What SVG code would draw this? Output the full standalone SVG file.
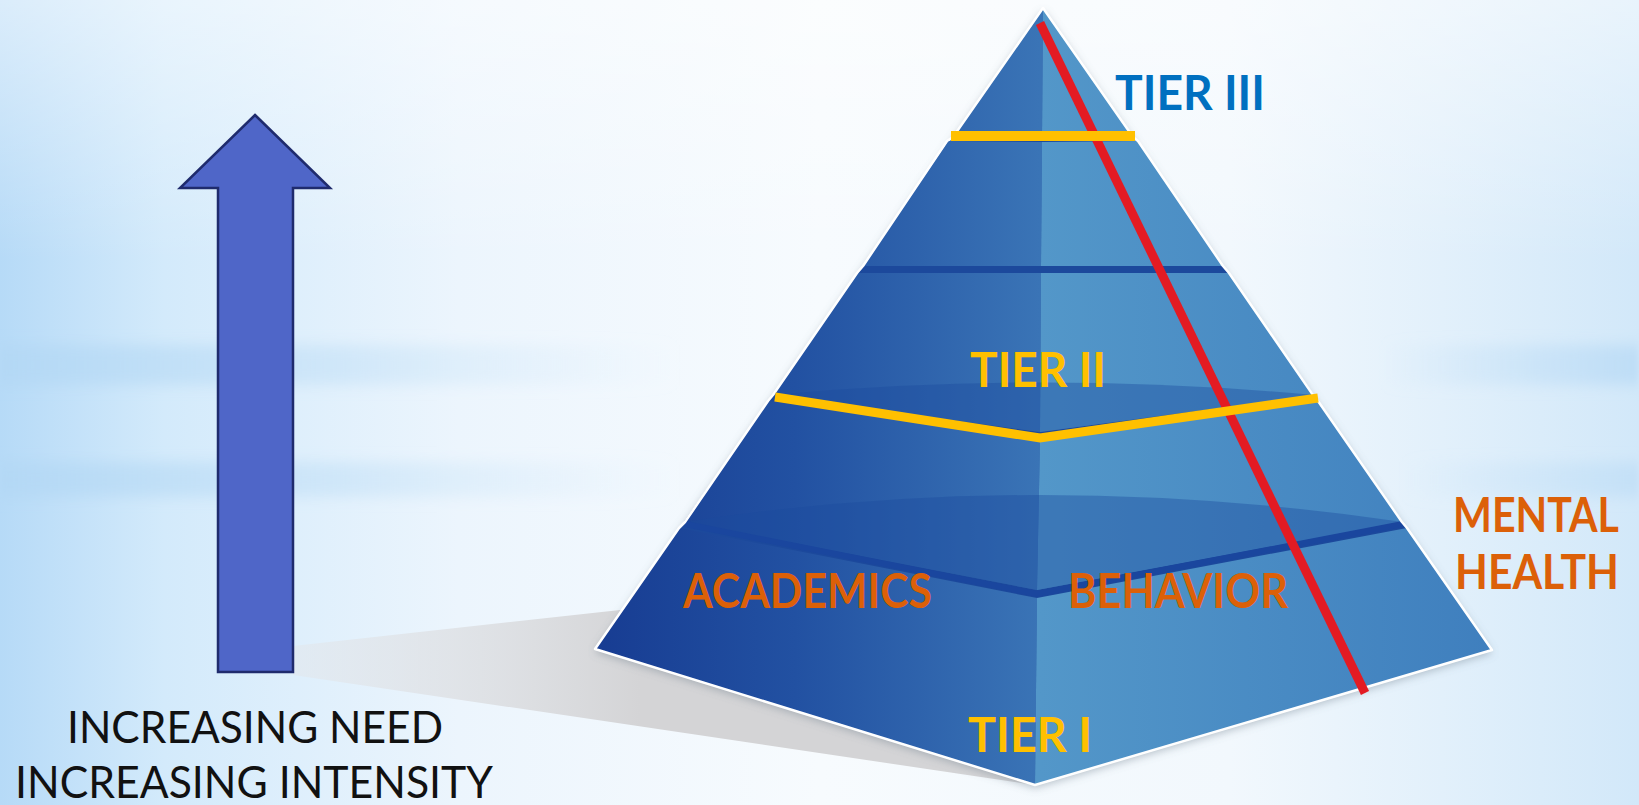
<svg xmlns="http://www.w3.org/2000/svg" width="1639" height="805" viewBox="0 0 1639 805">
<defs>
<linearGradient id="bgH" x1="0" y1="0" x2="1" y2="0">
<stop offset="0" stop-color="#b6daf7"/>
<stop offset="0.1" stop-color="#d3eafb"/>
<stop offset="0.28" stop-color="#ecf5fd"/>
<stop offset="0.5" stop-color="#f7fbfe"/>
<stop offset="0.75" stop-color="#f2f8fd"/>
<stop offset="0.88" stop-color="#e2f0fb"/>
<stop offset="1" stop-color="#d2e8f9"/>
</linearGradient>
<linearGradient id="bandL" x1="0" y1="0" x2="1" y2="0">
<stop offset="0" stop-color="#b3d8f5" stop-opacity="0.9"/>
<stop offset="0.5" stop-color="#c4e1f7" stop-opacity="0.6"/>
<stop offset="1" stop-color="#d6ebfa" stop-opacity="0"/>
</linearGradient>
<linearGradient id="bandR" x1="0" y1="0" x2="1" y2="0">
<stop offset="0" stop-color="#c4e1f7" stop-opacity="0"/>
<stop offset="1" stop-color="#bcdcf6" stop-opacity="0.9"/>
</linearGradient>
<linearGradient id="topGlow" x1="0" y1="0" x2="0" y2="1">
<stop offset="0" stop-color="#ffffff" stop-opacity="0.5"/>
<stop offset="1" stop-color="#ffffff" stop-opacity="0"/>
</linearGradient>
<linearGradient id="shadowG" gradientUnits="userSpaceOnUse" x1="293" y1="0" x2="640" y2="0">
<stop offset="0" stop-color="#e3e6ea" stop-opacity="0.5"/>
<stop offset="1" stop-color="#d4d4d6" stop-opacity="1"/>
</linearGradient>
<linearGradient id="leftFace" gradientUnits="userSpaceOnUse" x1="595" y1="0" x2="1040" y2="0">
<stop offset="0" stop-color="#173c92"/>
<stop offset="0.45" stop-color="#2251a2"/>
<stop offset="1" stop-color="#3a74b6"/>
</linearGradient>
<linearGradient id="rightFace" gradientUnits="userSpaceOnUse" x1="1040" y1="0" x2="1492" y2="0">
<stop offset="0" stop-color="#5397c9"/>
<stop offset="1" stop-color="#3f7fbe"/>
</linearGradient>
<filter id="pyrShadow" x="-10%" y="-10%" width="120%" height="120%">
<feDropShadow dx="0" dy="3" stdDeviation="4" flood-color="#6a7a8a" flood-opacity="0.45"/>
</filter>
<filter id="blurBg" x="-5%" y="-50%" width="110%" height="200%">
<feGaussianBlur stdDeviation="3 7"/>
</filter>
<style>
.lf{fill:url(#leftFace)}
.rf{fill:url(#rightFace)}
.lens{fill:#1b4a9d;fill-opacity:0.4}
.lbl{font-family:Lato,"Open Sans","DejaVu Sans",sans-serif;font-weight:bold;font-size:48px}
.orange{fill:#dc6008}
.gold{fill:#ffc000}
.blk{font-family:Lato,"Open Sans","DejaVu Sans",sans-serif;font-size:45px;fill:#111111}
</style>
</defs>

<g id="background">
<rect x="0" y="0" width="1639" height="805" fill="url(#bgH)"/>
<g filter="url(#blurBg)">
<rect x="0" y="345" width="680" height="40" fill="url(#bandL)"/>
<rect x="0" y="462" width="680" height="35" fill="url(#bandL)"/>
<rect x="1380" y="345" width="259" height="40" fill="url(#bandR)"/>
<rect x="1400" y="462" width="239" height="35" fill="url(#bandR)" opacity="0.7"/>
</g>
<rect x="0" y="0" width="1639" height="260" fill="url(#topGlow)"/>
</g>

<g id="floor-shadow">
<polygon points="293,646 620,610 1035,785 293,675" fill="url(#shadowG)"/>
</g>

<g id="arrow">
<polygon points="255,115 330,188 293,188 293,672 218,672 218,188 180,188" fill="#4f66c8" stroke="#1f2b6d" stroke-width="2.5" stroke-linejoin="miter"/>
</g>

<g id="pyramid">
<polygon points="1043,8 1492,650 1035,785 595,649" fill="#1d4a9c" filter="url(#pyrShadow)"/>
<g id="slab1">
<polygon class="lf" points="1043,8 1042,139 953,137"/>
<polygon class="rf" points="1043,8 1133,137 1042,139"/>
</g>
<g id="slab2">
<polygon class="lf" points="948,141 1042,142 1041,266 863,266"/>
<polygon class="rf" points="1042,142 1138,141 1223,266 1041,266"/>
</g>
<g id="slab3">
<polygon class="lf" points="858,273 1041,273 1040,432 773,395"/>
<polygon class="rf" points="1041,273 1229,273 1314,395 1040,432"/>
<path class="lens" d="M773,395 Q1040,370 1314,395 L1040,432 Z"/>
</g>
<g id="slab4">
<polygon class="lf" points="769,401 1040,440 1037,590 685,522"/>
<polygon class="rf" points="1040,440 1318,401 1403,522 1037,590"/>
<path class="lens" d="M685,522 Q1037,468 1403,522 L1037,590 Z"/>
</g>
<g id="slab5">
<polygon class="lf" points="680,528 1037,598 1035,785 595,649"/>
<polygon class="rf" points="1037,598 1407,528 1492,650 1035,785"/>
</g>
<polyline points="685,524 1037,594 1403,524" fill="none" stroke="#1a469e" stroke-width="6"/>
<polygon points="1043,8 953,137 947,141 863,266 857,273 773,395 768,401 685,522 679,528 595,649 1035,785 1492,650 1407,528 1402,522 1318,401 1313,395 1229,273 1223,266 1138,141 1133,137" fill="none" stroke="#ffffff" stroke-width="2.5" stroke-linejoin="round"/>
</g>

<g id="lines">
<line x1="1040" y1="23" x2="1365" y2="693" stroke="#e31b23" stroke-width="9"/>
<line x1="951" y1="136" x2="1135" y2="136" stroke="#ffc000" stroke-width="10"/>
<polyline points="775,397 1040,438 1318,398" fill="none" stroke="#ffc000" stroke-width="9" stroke-linejoin="miter"/>
</g>

<g id="labels">
<g id="tier3"><text class="lbl" x="1115" y="110" fill="#0070c0" textLength="150" lengthAdjust="spacingAndGlyphs" font-size="46">TIER III</text></g>
<g id="tier2"><text class="lbl gold" x="970" y="387" textLength="136" lengthAdjust="spacingAndGlyphs">TIER II</text></g>
<g id="tier1"><text class="lbl gold" x="968" y="752" textLength="124" lengthAdjust="spacingAndGlyphs">TIER I</text></g>
<g id="academics"><text class="lbl orange" x="683" y="608" textLength="249" lengthAdjust="spacingAndGlyphs">ACADEMICS</text></g>
<g id="behavior"><text class="lbl orange" x="1068" y="608" textLength="220" lengthAdjust="spacingAndGlyphs">BEHAVIOR</text></g>
<g id="mental-health">
<text class="lbl orange" x="1453" y="532" font-size="45" textLength="166" lengthAdjust="spacingAndGlyphs">MENTAL</text>
<text class="lbl orange" x="1455" y="589" font-size="45" textLength="164" lengthAdjust="spacingAndGlyphs">HEALTH</text>
</g>
<g id="arrow-caption">
<text class="blk" x="67" y="743" textLength="376" lengthAdjust="spacingAndGlyphs">INCREASING NEED</text>
<text class="blk" x="15" y="798" textLength="478" lengthAdjust="spacingAndGlyphs">INCREASING INTENSITY</text>
</g>
</g>
</svg>
